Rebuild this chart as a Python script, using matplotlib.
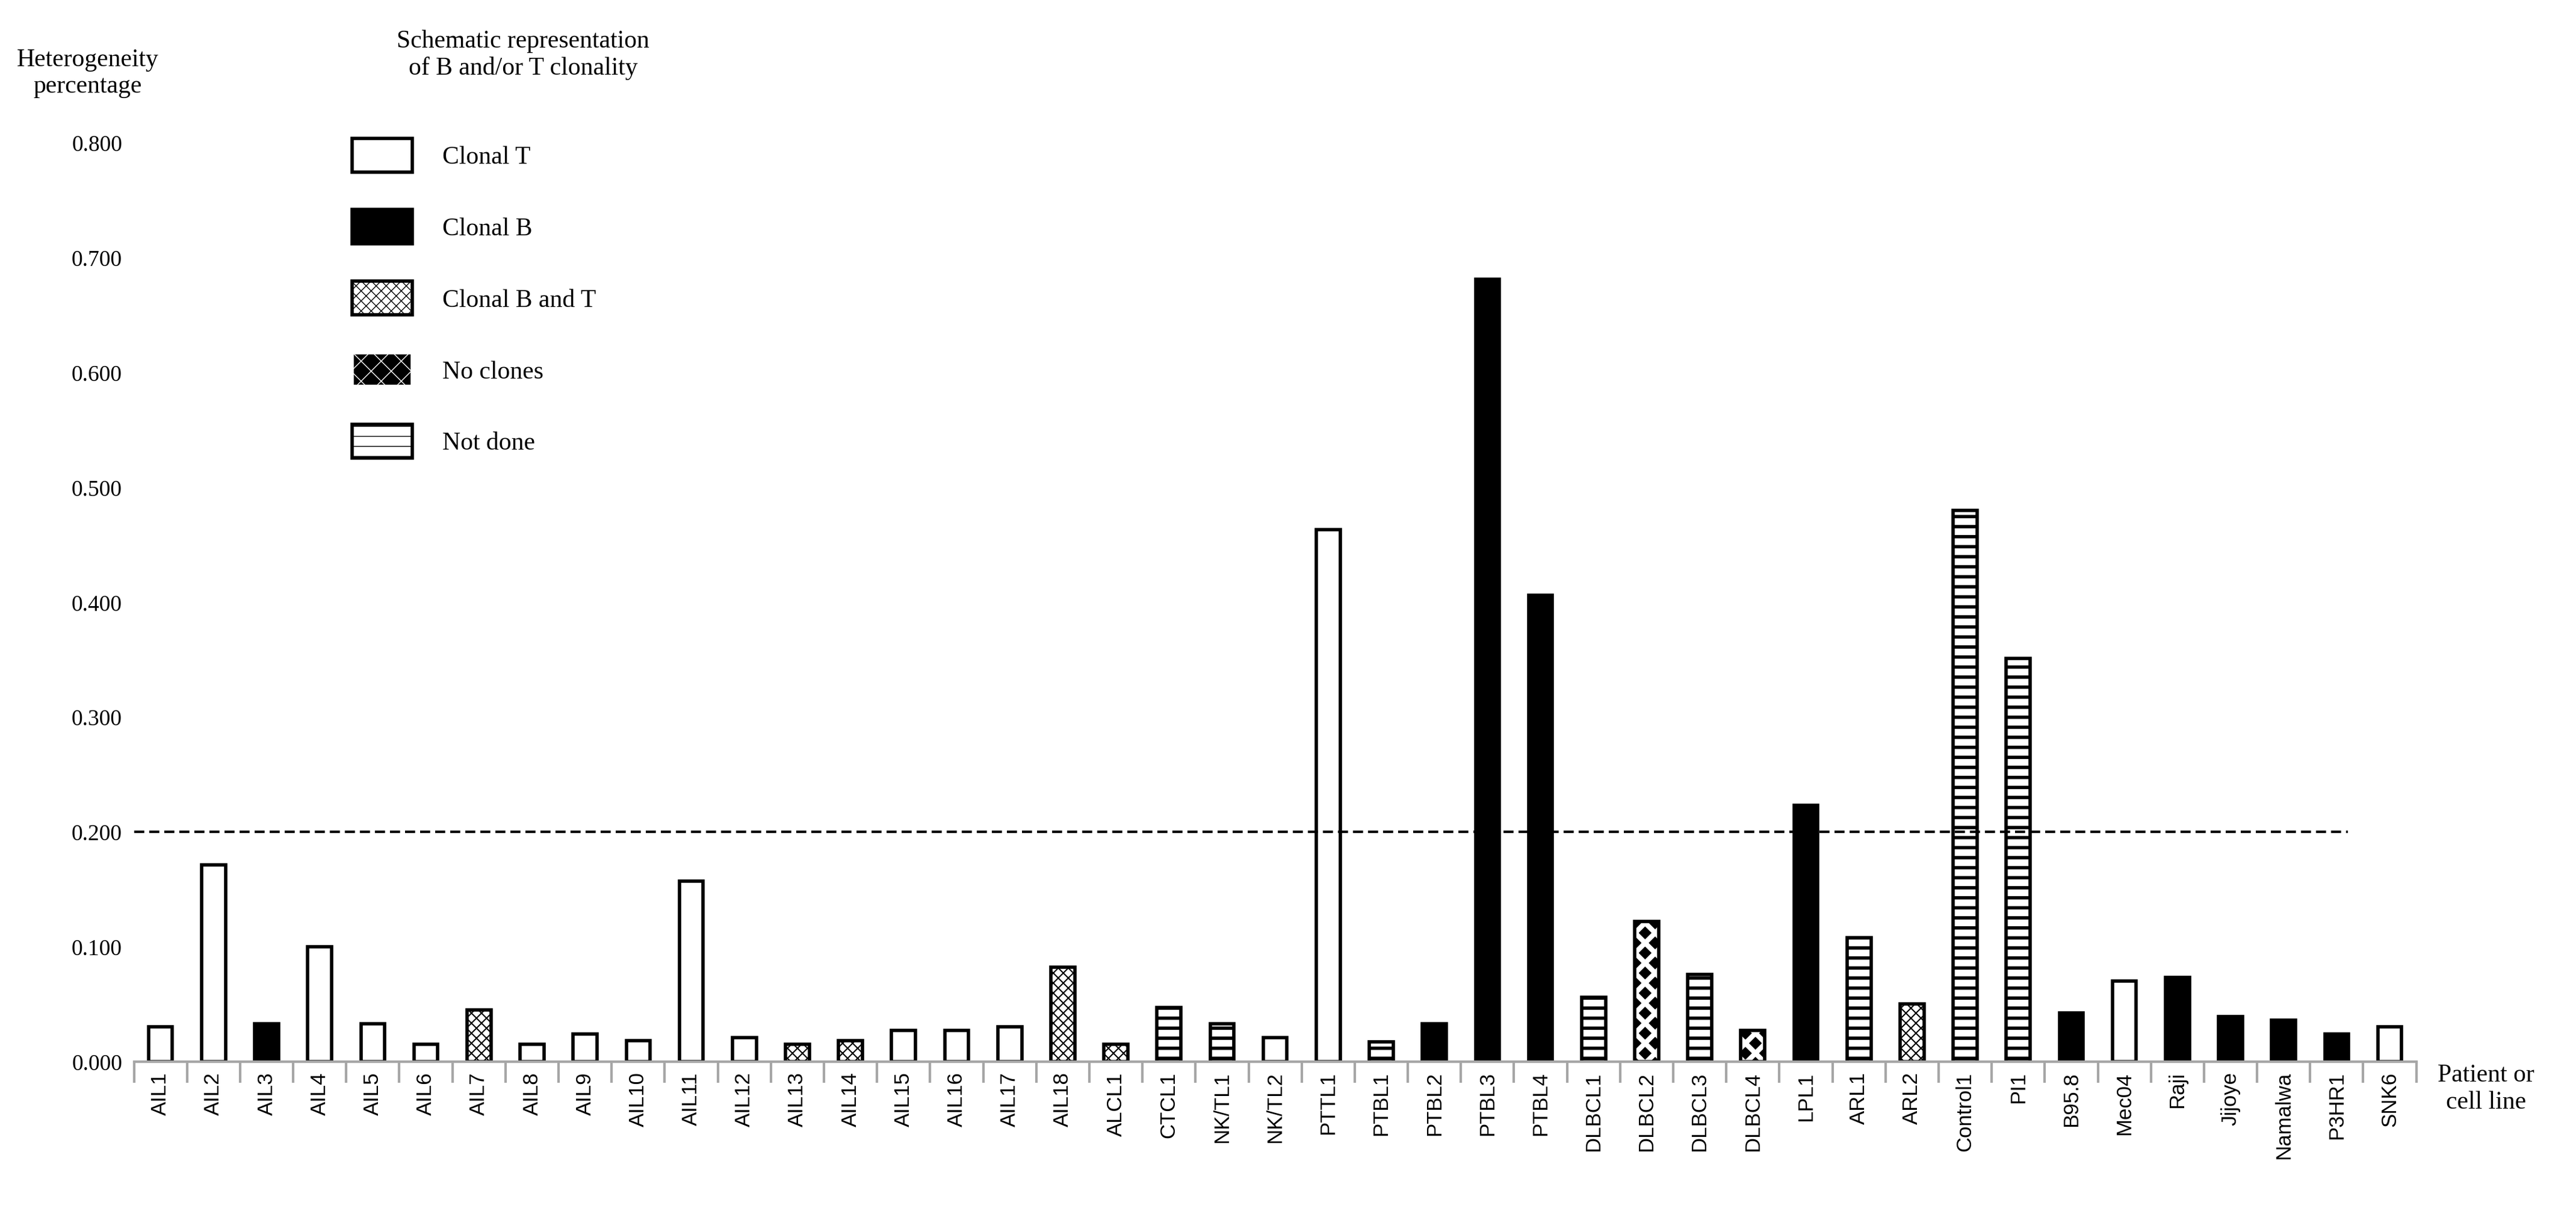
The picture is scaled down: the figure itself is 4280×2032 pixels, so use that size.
import matplotlib
matplotlib.use('Agg')
import matplotlib.pyplot as plt
from matplotlib.patches import Patch

# data
labels = ["AIL1", "AIL2", "AIL3", "AIL4", "AIL5", "AIL6", "AIL7", "AIL8", "AIL9", "AIL10",
          "AIL11", "AIL12", "AIL13", "AIL14", "AIL15", "AIL16", "AIL17", "AIL18", "ALCL1", "CTCL1",
          "NK/TL1", "NK/TL2", "PTTL1", "PTBL1", "PTBL2", "PTBL3", "PTBL4", "DLBCL1", "DLBCL2", "DLBCL3",
          "DLBCL4", "LPL1", "ARL1", "ARL2", "Control1", "PI1", "B95.8", "Mec04", "Raji", "Jijoye",
          "Namalwa", "P3HR1", "SNK6"]
values = [0.030, 0.171, 0.033, 0.100, 0.033, 0.015, 0.045, 0.015, 0.024, 0.018,
          0.157, 0.021, 0.015, 0.018, 0.027, 0.027, 0.030, 0.082, 0.015, 0.047,
          0.033, 0.021, 0.463, 0.017, 0.033, 0.681, 0.406, 0.056, 0.122, 0.076,
          0.027, 0.223, 0.108, 0.050, 0.480, 0.351, 0.042, 0.070, 0.073, 0.039,
          0.036, 0.024, 0.030]
# T = clonal T, B = clonal B, BT = clonal B and T, N = no clones, ND = not done
clonality = ["T", "T", "B", "T", "T", "T", "BT", "T", "T", "T",
             "T", "T", "BT", "BT", "T", "T", "T", "BT", "BT", "ND",
             "ND", "T", "T", "ND", "B", "B", "B", "ND", "N", "ND",
             "N", "B", "ND", "BT", "ND", "ND", "B", "T", "B", "B",
             "B", "B", "T"]
threshold = 0.2

# face colour, hatch colour, hatch, hatch line width
styles = {
    "T": ("white", "black", None, 1),
    "B": ("black", "black", None, 1),
    "BT": ("white", "black", "xx", 1.5),
    "N": ("black", "white", "x", 6),
    "ND": ("white", "black", "-", 4),
}
legend_names = [("T", "Clonal T"), ("B", "Clonal B"), ("BT", "Clonal B and T"),
                ("N", "No clones"), ("ND", "Not done")]

plt.rcParams['font.family'] = ['Liberation Serif', 'DejaVu Serif']

fig = plt.figure(figsize=(42.8, 20.33), dpi=100)
ax = fig.add_axes([0.052, 0.132, 0.886, 0.751])


def styled_patch_kwargs(key):
    face, hcol, hatch, hlw = styles[key]
    return face, hcol, hatch, hlw


for i, (v, c) in enumerate(zip(values, clonality)):
    face, hcol, hatch, hlw = styles[c]
    with plt.rc_context({'hatch.linewidth': hlw}):
        ax.bar(i, v, width=0.45, facecolor=face, hatch=hatch, edgecolor=hcol, linewidth=0)
    ax.bar(i, v, width=0.45, fill=False, edgecolor="black", linewidth=4)

ax.axhline(threshold, xmin=0, xmax=0.97, color="black", linestyle=(0, (4, 2)), linewidth=3)

ax.set_xlim(-0.5, len(labels) - 0.5)
ax.set_ylim(0, 0.8)
ax.set_yticks([i / 10 for i in range(9)])
ax.set_yticklabels([f"{i / 10:.3f}" for i in range(9)], fontsize=27)
ax.set_xticks(list(range(len(labels))))
ax.set_xticklabels(labels, rotation=90, fontsize=25, family=['Liberation Sans'])
ax.set_xticks([i + 0.5 for i in range(-1, len(labels))], minor=True)
ax.tick_params(axis='x', which='major', length=0, pad=12)
ax.tick_params(axis='x', which='minor', length=25, width=3, color="#a6a6a6")
ax.tick_params(axis='y', length=0, pad=14)
for s in ["top", "right", "left"]:
    ax.spines[s].set_visible(False)
ax.spines["bottom"].set_color("#a6a6a6")
ax.spines["bottom"].set_linewidth(3)

fig.text(0.034, 0.94, "Heterogeneity\npercentage", fontsize=30, ha="center", va="center",
         linespacing=1.2)
fig.text(0.203, 0.955, "Schematic representation\nof B and/or T clonality", fontsize=30,
         ha="center", va="center", linespacing=1.2)
fig.text(0.965, 0.11, "Patient or\ncell line", fontsize=30, ha="center", va="center",
         linespacing=1.2)

handles = []
for k, name in legend_names:
    face, hcol, hatch, hlw = styles[k]
    with plt.rc_context({'hatch.linewidth': hlw}):
        handles.append(Patch(facecolor=face, hatch=hatch, edgecolor=hcol if hatch else "black",
                             linewidth=4, label=name))
fig.legend(handles=handles, loc="upper left", bbox_to_anchor=(0.128, 0.905), frameon=False,
           fontsize=30, handlelength=2.4, handleheight=1.7, labelspacing=1.5, handletextpad=1.2)

fig.savefig("out.png", dpi=100)
